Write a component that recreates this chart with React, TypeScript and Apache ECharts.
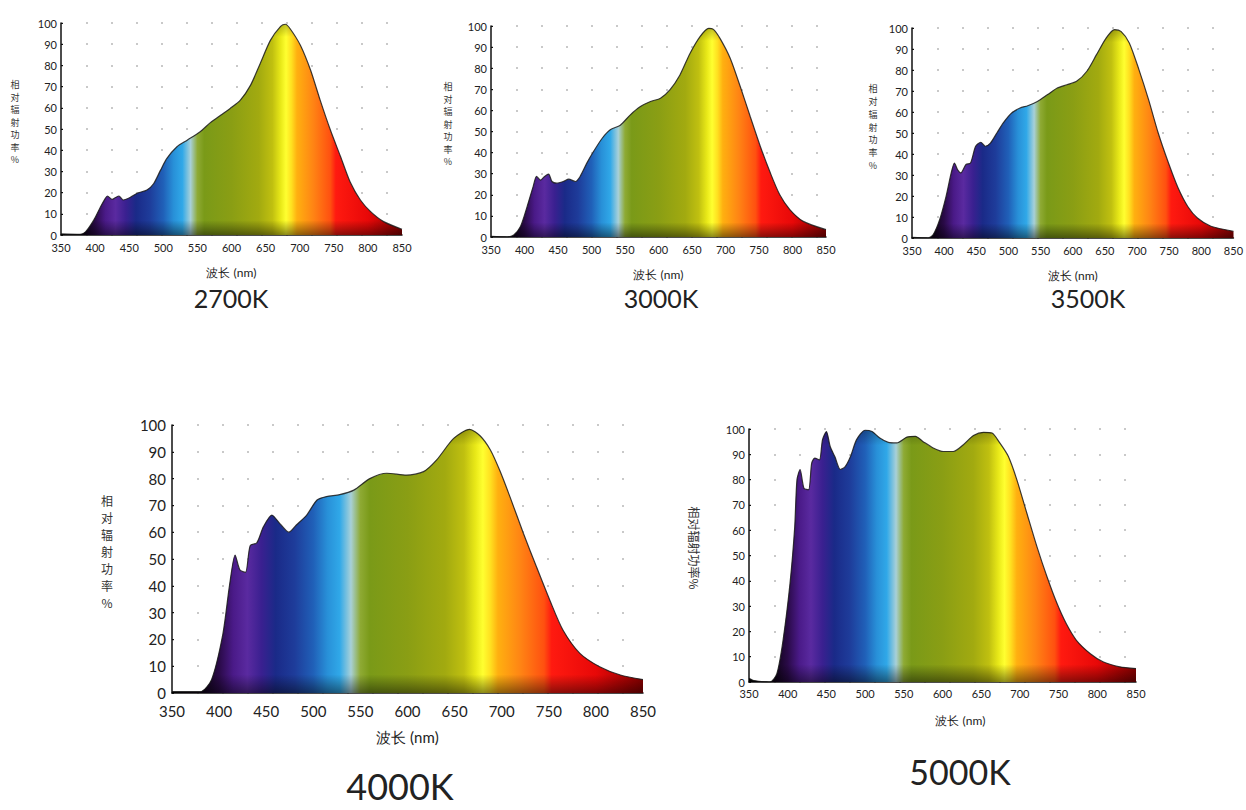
import React, { useEffect, useRef } from "react";
import * as echarts from "echarts";

// ---- data (wavelength nm, relative power %) ----
const wl2700 = [350, 378, 386, 398, 408, 415, 418, 425, 430, 435, 441, 449, 461, 476, 486, 496, 505, 520, 535, 554, 569, 584, 598, 613, 628, 642, 657, 672, 679, 686, 701, 716, 730, 745, 760, 774, 789, 804, 823, 850];
const v2700 = [0.5, 0.3, 1.5, 7, 13.3, 17.3, 18.4, 16.8, 17.7, 18.4, 16.5, 17.3, 19.6, 21.2, 24.3, 30.6, 36, 41.6, 44.7, 48.7, 53, 56.5, 59.7, 63.6, 70.7, 80.8, 91.8, 98.4, 99.4, 97.3, 89.5, 77.7, 63.6, 49.5, 36.9, 25, 16.5, 11, 6.3, 2.7];

const wl3000 = [350, 374, 384, 394, 404, 413, 418, 424, 430, 436, 441, 448, 458, 466, 476, 483, 493, 503, 516, 528, 543, 558, 573, 588, 603, 617, 632, 647, 662, 675, 682, 692, 707, 722, 737, 752, 767, 781, 796, 816, 850];
const v3000 = [0.3, 0, 1, 5, 14.5, 24, 28.7, 27, 28.7, 29.8, 26.3, 25.5, 26.3, 27.4, 26.3, 28.7, 35, 40.5, 46.8, 50.8, 53, 57.9, 61.8, 64.2, 65.8, 69.7, 76.8, 87, 95, 98.9, 98.4, 94, 84.7, 71.3, 57, 42.9, 30.3, 20, 13, 7.4, 3.5];

const wl3500 = [350, 375, 383, 393, 403, 411, 416, 421, 426, 434, 441, 449, 457, 464, 472, 482, 492, 505, 518, 530, 545, 561, 576, 591, 606, 622, 637, 652, 665, 675, 688, 703, 718, 733, 749, 764, 779, 794, 815, 850];
const v3500 = [0.3, 0, 1.6, 8.7, 19.8, 31, 35.7, 32.5, 31, 35, 35.7, 43.7, 45.6, 43.7, 45.2, 50, 54.8, 59.5, 61.9, 63, 65, 68.3, 71.4, 73, 74.6, 79.4, 87.3, 95.2, 99.2, 98.4, 92.9, 80.2, 65.9, 50, 35.7, 23.8, 15, 9.5, 5.6, 3.2];

const wl4000 = [350, 380, 392, 404, 411, 417, 422, 428, 433, 440, 447, 456, 465, 474, 482, 493, 504, 514, 528, 543, 560, 578, 599, 617, 631, 649, 666, 677, 688, 698, 709, 723, 737, 751, 765, 783, 804, 826, 850];
const v4000 = [0.5, 0.5, 5, 22, 40, 51.5, 46, 45, 55, 56, 62, 66.4, 63, 60, 62.7, 66.4, 72, 73.3, 74, 75.7, 80, 82, 81.3, 82.6, 87, 95, 98.4, 96, 90.7, 83, 73, 59.6, 47, 34.7, 23.5, 14.8, 9.8, 6.7, 5];

const wl5000 = [350, 356, 377, 386, 394, 403, 409, 412, 416, 421, 427, 431, 435, 441, 445, 450, 455, 461, 468, 474, 481, 489, 500, 509, 519, 530, 541, 554, 565, 575, 588, 601, 614, 627, 640, 653, 664, 674, 685, 696, 709, 722, 735, 748, 760, 773, 791, 808, 829, 850];
const v5000 = [1.5, 0.6, 0, 3.3, 16.5, 39, 61, 80, 84, 76.6, 76, 86.5, 88.5, 87.8, 95.8, 99, 93, 89, 84, 85, 89, 95.8, 99.5, 99, 96.4, 94.7, 94.5, 96.8, 97.1, 95, 92.5, 91.1, 91.1, 93.8, 97.4, 98.7, 98.4, 94.5, 89.2, 80, 66.7, 53.5, 41.6, 31, 23, 16.5, 11.2, 7.9, 6, 5.3];

const xTicks = [350, 400, 450, 500, 550, 600, 650, 700, 750, 800, 850];
const yTicks = [0, 10, 20, 30, 40, 50, 60, 70, 80, 90, 100];
const titles = ["2700K", "3000K", "3500K", "4000K", "5000K"];
const yName = "相对辐射功率%";
const xName = "波长 (nm)";

// spectrum colour stops (nm, colour)
const stopNm = [350, 385, 400, 415, 430, 445, 460, 480, 500, 515, 528, 540, 550, 560, 600, 640, 660, 672, 680, 688, 696, 720, 745, 753, 800, 850];
const stopColor = ["#000000", "#12041c", "#2a0a48", "#4a1a88", "#5a2aa0", "#3a2090", "#1a2a88", "#1e3c9a", "#2060b8", "#2890d8", "#30a8e8", "#a8d0d8", "#8eaa34", "#7a9a18", "#8a9e14", "#a2aa10", "#c0c010", "#e8e818", "#ffff30", "#ffe020", "#ffb010", "#ff8414", "#ff5010", "#ff1a10", "#e80808", "#8a0000"];

type Layout = { left: number; top: number; width: number; height: number; font: number; yFont: number; xMargin: number; yMargin: number; nameGap: number; nameFont: number; namePad: number };

const layouts: Layout[] = [
  { left: 61, top: 23, width: 341, height: 212, font: 11, yFont: 11, xMargin: 7, yMargin: 4, nameGap: 31, nameFont: 12, namePad: 0 },
  { left: 491, top: 26, width: 335, height: 211, font: 11, yFont: 11, xMargin: 7, yMargin: 4, nameGap: 31, nameFont: 12, namePad: 0 },
  { left: 912, top: 28, width: 328, height: 210, font: 11, yFont: 11, xMargin: 7, yMargin: 4, nameGap: 31, nameFont: 12, namePad: 0 },
  { left: 172, top: 425, width: 471, height: 268, font: 15, yFont: 15, xMargin: 10, yMargin: 6, nameGap: 36, nameFont: 15, namePad: 0 },
  { left: 749, top: 429, width: 387, height: 253, font: 11, yFont: 11, xMargin: 6, yMargin: 4, nameGap: 32, nameFont: 12, namePad: 36 },
];

const wls = [wl2700, wl3000, wl3500, wl4000, wl5000];
const vals = [v2700, v3000, v3500, v4000, v5000];

const spectrum = () =>
  new echarts.graphic.LinearGradient(
    0, 0, 1, 0,
    stopNm.map((nm, i) => ({ offset: (nm - 350) / 500, color: stopColor[i] }))
  );

const shade = () =>
  new echarts.graphic.LinearGradient(0, 0, 0, 1, [
    { offset: 0, color: "rgba(0,0,0,0.25)" },
    { offset: 0.06, color: "rgba(0,0,0,0)" },
    { offset: 0.93, color: "rgba(0,0,0,0)" },
    { offset: 1, color: "rgba(0,0,0,0.45)" },
  ]);

export default function App() {
  const ref = useRef<HTMLDivElement>(null);
  useEffect(() => {
    if (!ref.current) return;
    const chart = echarts.init(ref.current, undefined, { renderer: "svg" });
    const fontFamily = "Lato, 'Noto Sans', sans-serif";
    const grid = layouts.map((l) => ({ left: l.left, top: l.top, width: l.width, height: l.height, containLabel: false }));
    const xAxis = layouts.map((l, i) => ({
      type: "value",
      gridIndex: i,
      min: 350,
      max: 850,
      interval: 50,
      name: xName,
      nameLocation: "middle",
      nameGap: l.nameGap,
      nameTextStyle: { fontSize: l.nameFont, color: "#222", fontFamily, padding: [0, 0, 0, l.namePad] },
      axisLine: { show: true, lineStyle: { color: "#111", width: 1.5 } },
      axisTick: { show: false },
      axisLabel: { fontSize: l.font, color: "#222", margin: l.xMargin, fontFamily, customValues: xTicks },
      splitLine: { show: false },
    }));
    const yAxis = layouts.map((l, i) => ({
      type: "value",
      gridIndex: i,
      min: 0,
      max: 100,
      interval: 10,
      axisLine: { show: true, lineStyle: { color: "#111", width: 1.5 } },
      axisTick: { show: true, inside: true, length: 2, lineStyle: { color: "#111" } },
      axisLabel: { fontSize: l.yFont, color: "#222", margin: l.yMargin, fontFamily, customValues: yTicks },
      splitLine: { show: true, lineStyle: { color: "#b8b8b8", type: [2, 23], width: 1.5 } },
    }));
    const series: any[] = [];
    wls.forEach((wl, i) => {
      const data = wl.map((x, k) => [x, vals[i][k]]);
      series.push({
        type: "line",
        name: titles[i],
        xAxisIndex: i,
        yAxisIndex: i,
        data,
        smooth: 0.25,
        symbol: "none",
        lineStyle: { color: "#1a1a1a", width: 1.2, opacity: 0.85 },
        areaStyle: { color: spectrum(), opacity: 1 },
        z: 2,
      });
      series.push({
        type: "line",
        name: titles[i] + "-shade",
        xAxisIndex: i,
        yAxisIndex: i,
        data,
        smooth: 0.25,
        symbol: "none",
        lineStyle: { width: 0 },
        areaStyle: { color: shade(), opacity: 1 },
        silent: true,
        z: 3,
      });
    });

    const titlePos = [
      { x: 231, y: 298, size: 25 },
      { x: 661, y: 298, size: 25 },
      { x: 1088, y: 298, size: 25 },
      { x: 400, y: 786, size: 36 },
      { x: 960, y: 771, size: 34 },
    ];
    const yNamePos = [
      { x: 15, y: 122, size: 9, lh: 12.5, rot: 0 },
      { x: 448, y: 124, size: 9, lh: 12.5, rot: 0 },
      { x: 873, y: 127, size: 9, lh: 12.8, rot: 0 },
      { x: 107, y: 551, size: 12, lh: 17, rot: 0 },
      { x: 694, y: 548, size: 12, lh: 14, rot: -1 },
    ];
    const graphic: any[] = [];
    titles.forEach((t, i) => {
      const p = titlePos[i];
      graphic.push({
        type: "text",
        x: p.x,
        y: p.y,
        style: { text: t, fontSize: p.size, fontFamily, fill: "#222", align: "center", verticalAlign: "middle" },
      });
      const n = yNamePos[i];
      if (n.rot === 0) {
        graphic.push({
          type: "text",
          x: n.x,
          y: n.y,
          style: {
            text: yName.split("").join("\n"),
            fontSize: n.size,
            lineHeight: n.lh,
            fontFamily: "'Noto Sans CJK SC', sans-serif",
            fill: "#333",
            align: "center",
            verticalAlign: "middle",
          },
        });
      } else {
        graphic.push({
          type: "text",
          x: n.x,
          y: n.y,
          rotation: -Math.PI / 2,
          style: {
            text: yName,
            fontSize: n.size,
            fontFamily: "'Noto Sans CJK SC', sans-serif",
            fill: "#333",
            align: "center",
            verticalAlign: "middle",
          },
        });
      }
    });

    chart.setOption({
      animation: false,
      backgroundColor: "#ffffff",
      grid,
      xAxis,
      yAxis,
      series,
      graphic,
    });
    return () => chart.dispose();
  }, []);
  return <div ref={ref} style={{ width: 1246, height: 810, position: "absolute", left: 0, top: 0 }} />;
}
